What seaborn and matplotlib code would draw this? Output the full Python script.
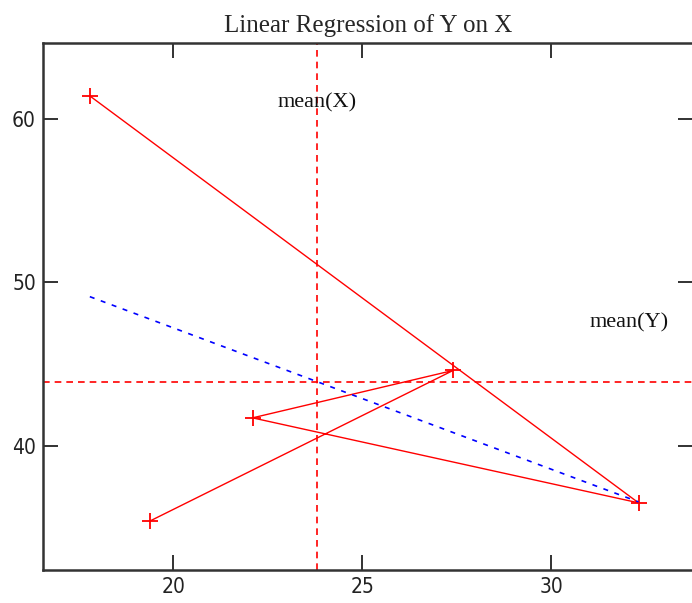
import numpy as np
import pandas as pd
import seaborn as sns
import matplotlib.pyplot as plt

# data (plotted in this order)
x_vals = [17.8, 32.3, 22.1, 27.4, 19.4]
y_vals = [61.4, 36.5, 41.7, 44.6, 35.4]
x_ticks = [20, 25, 30]
y_ticks = [40, 50, 60]

df = pd.DataFrame({'x': x_vals, 'y': y_vals})
mean_x = df['x'].mean()
mean_y = df['y'].mean()

# least squares fit, drawn over the data range
slope, intercept = np.polyfit(df['x'], df['y'], 1)
fit = pd.DataFrame({'x': [df['x'].min(), df['x'].max()]})
fit['y'] = intercept + slope * fit['x']

sns.set_theme(style="ticks")
plt.rcParams['font.family'] = ['Liberation Serif', 'DejaVu Serif']

fig = plt.figure(figsize=(6.92, 6.03), dpi=100)
ax = fig.add_axes([0.062, 0.055, 0.94, 0.874])

sns.lineplot(data=df, x='x', y='y', sort=False, estimator=None, ax=ax,
             color='red', linewidth=1, marker='+', markersize=12,
             markeredgewidth=1.3, markeredgecolor='red')
sns.lineplot(data=fit, x='x', y='y', ax=ax, color='blue', linewidth=1.2,
             linestyle=(0, (3, 4)))

ax.axvline(mean_x, color='red', linewidth=1.2, linestyle=(0, (4, 3)))
ax.axhline(mean_y, color='red', linewidth=1.2, linestyle=(0, (4, 3)))

ax.text(mean_x, 61.0, 'mean(X)', ha='center', va='center', fontsize=16,
        color='#111111')
ax.text(32.05, 47.5, 'mean(Y)', ha='center', va='center', fontsize=16,
        color='#111111')

ax.set_xlim(16.56, 33.75)
ax.set_ylim(32.4, 64.65)
ax.set_xticks(x_ticks)
ax.set_yticks(y_ticks)
ax.set_xticklabels([str(t) for t in x_ticks])
ax.set_yticklabels([str(t) for t in y_ticks])
ax.tick_params(direction='in', length=11, width=1.3, color='#222222',
               top=True, right=True, labelsize=15, pad=5)
for lab in ax.get_xticklabels() + ax.get_yticklabels():
    lab.set_family(['DejaVu Sans', 'Liberation Sans'])
    lab.set_stretch('condensed')
    lab.set_color('#222222')
for sp in ax.spines.values():
    sp.set_linewidth(1.8)
    sp.set_color('#333333')

ax.set_xlabel('')
ax.set_ylabel('')
ax.set_title('Linear Regression of Y on X', fontsize=18, pad=8)

plt.savefig('out.png', dpi=100)
